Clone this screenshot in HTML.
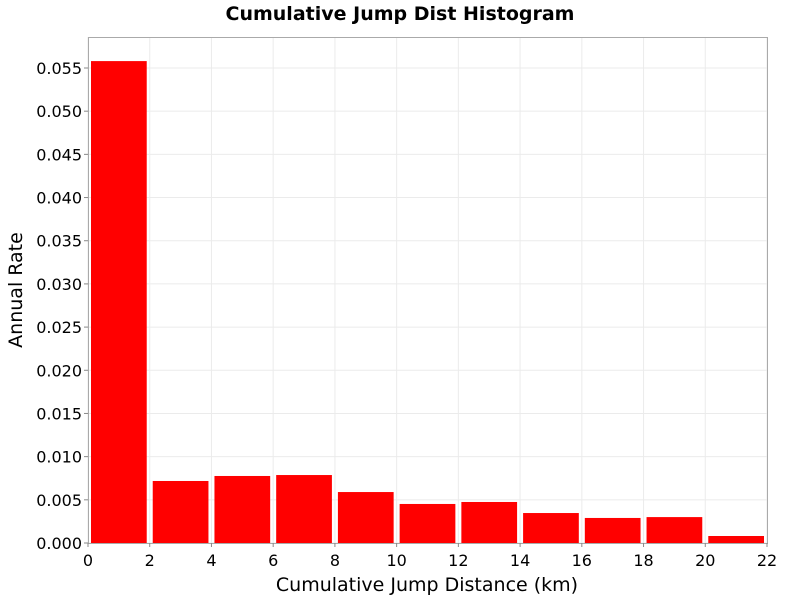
<!DOCTYPE html>
<html><head><meta charset="utf-8"><style>
body{margin:0;background:#fff;font-family:"DejaVu Sans","Liberation Sans",sans-serif}
svg text{font-family:"DejaVu Sans","Liberation Sans",sans-serif}
</style></head><body>
<svg id="c" width="800" height="600" xmlns="http://www.w3.org/2000/svg">
<text x="400" y="20" text-anchor="middle" font-size="19" font-weight="900">Cumulative Jump Dist Histogram</text>
<rect x="88" y="37" width="679" height="506" fill="#fff"/>
<g id="grid"></g><g id="bars"></g>
<rect x="88.5" y="37.5" width="679" height="506" fill="none" stroke="#aaa"/>
<g id="axes"></g>
<text x="427" y="591" text-anchor="middle" font-size="19">Cumulative Jump Distance (km)</text>
<text transform="translate(22,290) rotate(-90)" text-anchor="middle" font-size="19">Annual Rate</text>
</svg>
<script>
const binStarts=[0,2,4,6,8,10,12,14,16,18,20];
const rates=[0.0558,0.00718,0.00776,0.00787,0.0059,0.00452,0.00475,0.00347,0.0029,0.003,0.00081];
const xTicks=[0,2,4,6,8,10,12,14,16,18,20,22];
const yTicks=["0.000","0.005","0.010","0.015","0.020","0.025","0.030","0.035","0.040","0.045","0.050","0.055"];
const binWidth=2;
const NS="http://www.w3.org/2000/svg";
const X=v=>88+v*(679/22);
const Y=v=>543-v*(475/0.055);
function mk(t,a,p){const e=document.createElementNS(NS,t);for(const k in a)e.setAttribute(k,a[k]);p.appendChild(e);return e;}
const g=document.getElementById('grid'),b=document.getElementById('bars'),ax=document.getElementById('axes');
xTicks.forEach(t=>{
 const l=mk('line',{x1:X(t),x2:X(t),y1:37,y2:543,stroke:'#ebebeb'},g);
 
 
 const tk=mk('line',{x1:X(t),x2:X(t),y1:543,y2:547,stroke:'#888'},ax);
 
 
 const tx=mk('text',{x:X(t),y:566,'text-anchor':'middle','font-size':16},ax);tx.textContent=t;
 
 
});
yTicks.forEach(t=>{
 const v=parseFloat(t);
 const l=mk('line',{x1:88,x2:767,y1:Y(v),y2:Y(v),stroke:'#ebebeb'},g);
 
 
 const tk=mk('line',{x1:84,x2:88,y1:Y(v),y2:Y(v),stroke:'#888'},ax);
 
 
 const tx=mk('text',{x:82,y:Y(v)+6,'text-anchor':'end','font-size':16},ax);tx.textContent=t;
 
 
});
binStarts.forEach((s,i)=>{
 const x0=X(s)+3,x1=X(s+binWidth)-3;
 const r=mk('rect',{x:x0,y:Y(rates[i]),width:x1-x0,height:Y(0)-Y(rates[i]),fill:'#ff0000'},b);
 
 
});
</script>
</body></html>
